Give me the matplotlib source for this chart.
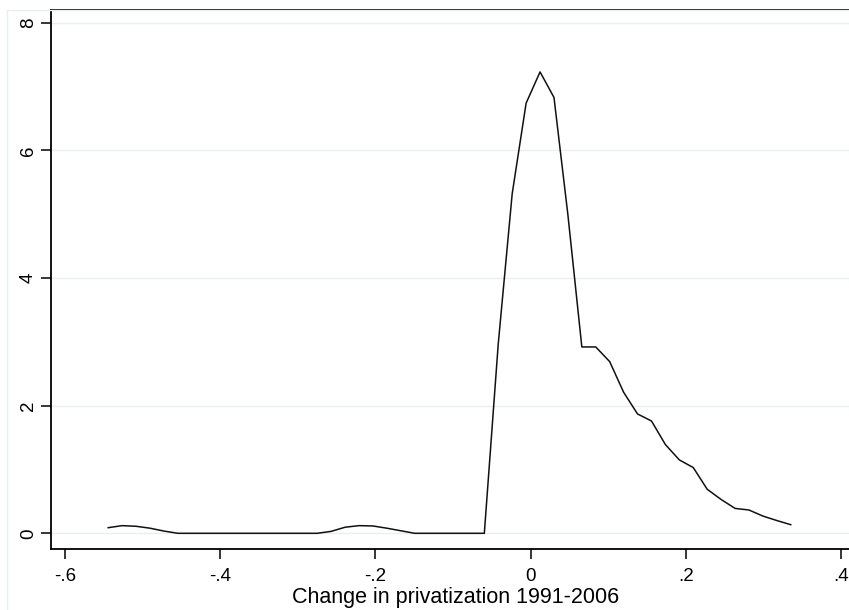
import matplotlib
matplotlib.use("Agg")

import matplotlib.pyplot as plt
import numpy as np
from matplotlib.patches import Rectangle

# kernel density estimate, 50 evaluation points
x_start = -0.544
x_end = 0.335
density = [
    0.088, 0.12, 0.11, 0.08, 0.035, 0.0, 0.0, 0.0, 0.0, 0.0,
    0.0, 0.0, 0.0, 0.0, 0.0, 0.0, 0.03, 0.095, 0.12, 0.115,
    0.08, 0.04, 0.0, 0.0, 0.0, 0.0, 0.0, 0.0, 2.97, 5.32,
    6.74, 7.23, 6.83, 4.99, 2.92, 2.92, 2.69, 2.21, 1.87, 1.76,
    1.39, 1.15, 1.03, 0.69, 0.53, 0.39, 0.365, 0.27, 0.20, 0.135,
]
x_grid = np.linspace(x_start, x_end, len(density))

x_ticks = [-0.6, -0.4, -0.2, 0, 0.2, 0.4]
x_ticklabels = ["-.6", "-.4", "-.2", "0", ".2", ".4"]
y_ticks = [0, 2, 4, 6, 8]
y_ticklabels = ["0", "2", "4", "6", "8"]

W, H = 849, 610
fig = plt.figure(figsize=(W / 100, H / 100), dpi=100)
fig.patch.set_facecolor("white")

plt.rcParams["font.family"] = ["Liberation Sans", "DejaVu Sans"]

# outer graph-region outline (Stata style), cut off at right/bottom
fig.add_artist(Rectangle((7 / W, -0.1), 1.2, (H - 10) / H + 0.1,
                         transform=fig.transFigure, fill=False,
                         edgecolor="#e8eff1", linewidth=1.0))

# plot region runs past the right edge of the picture
ax_left, ax_right, ax_top, ax_bottom = 51, 880, 10, 549
ax = fig.add_axes([ax_left / W, (H - ax_bottom) / H,
                   (ax_right - ax_left) / W, (ax_bottom - ax_top) / H])
ax.plot(x_grid, density, color="#111111", linewidth=1.1, zorder=3)

ax.set_xlim(-0.6177, 0.4499)
ax.set_ylim(-0.246, 8.20)

ax.set_xticks(x_ticks)
ax.set_xticklabels(x_ticklabels)
ax.set_yticks(y_ticks)
ax.set_yticklabels(y_ticklabels, rotation=90, va="center")

ax.grid(True, axis="y", color="#e8eff1", linewidth=1.0)
ax.set_axisbelow(True)

for side in ["left", "bottom", "top"]:
    ax.spines[side].set_color("black")
    ax.spines[side].set_linewidth(1.3)
ax.spines["right"].set_visible(False)

ax.tick_params(axis="x", length=7, width=1.1, pad=7, labelsize=13.5, colors="black")
ax.tick_params(axis="y", length=7, width=1.1, pad=3, labelsize=13.5, colors="black")

ax.set_xlabel("Change in privatization 1991-2006", fontsize=15.5)
ax.xaxis.set_label_coords((455.5 - ax_left) / (ax_right - ax_left),
                          (ax_bottom - 587) / (ax_bottom - ax_top))

fig.savefig("out.png", dpi=100, facecolor=fig.get_facecolor())
plt.close(fig)
